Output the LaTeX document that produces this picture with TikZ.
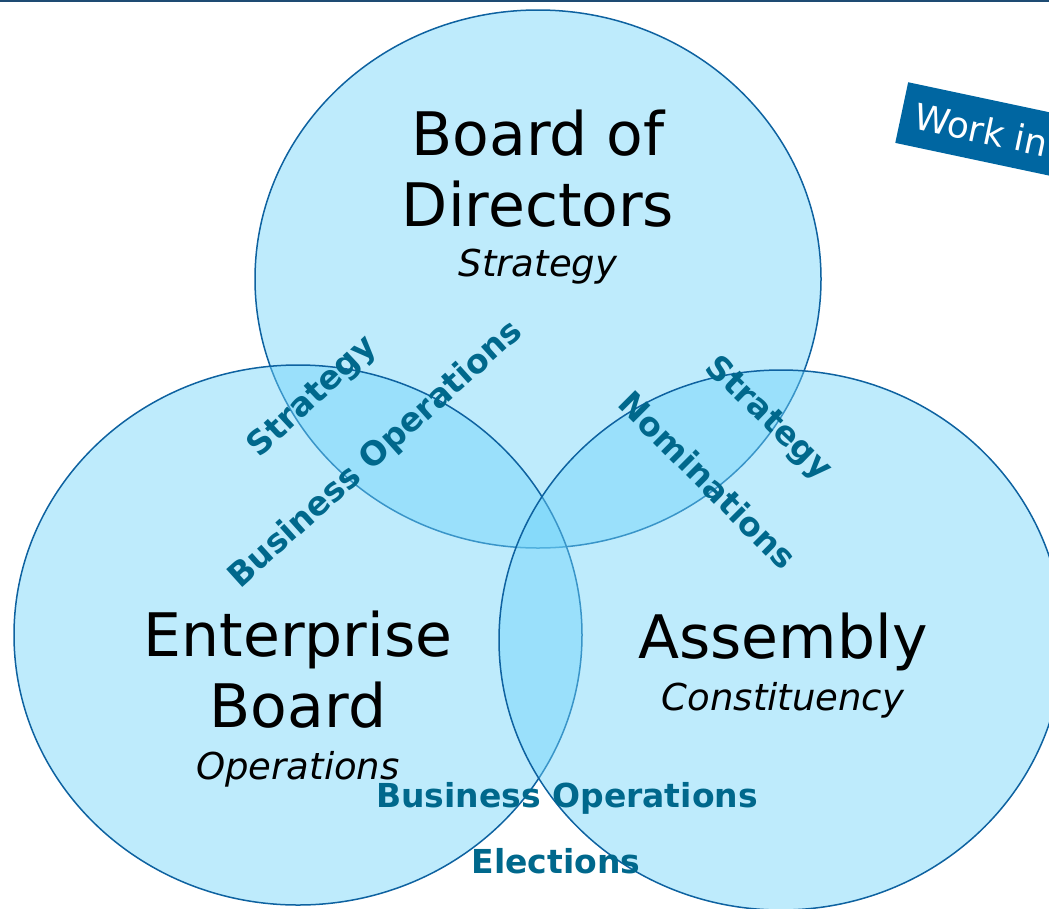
\documentclass[tikz,border=0pt]{standalone}
\usepackage{fontspec}
\setmainfont{DejaVu Sans}
\usetikzlibrary{shapes.geometric}
\usetikzlibrary{positioning}
\definecolor{venfill}{RGB}{110,211,249}
\definecolor{venline}{RGB}{14,98,160}
\definecolor{lenstext}{RGB}{0,104,140}
\definecolor{wipblue}{RGB}{0,102,161}
\definecolor{topbar}{RGB}{30,75,115}
\tikzstyle{circ} = [ellipse, draw=venline, line width=1.5pt, fill=venfill,
    fill opacity=0.45, draw opacity=1, minimum width=566pt, minimum height=538pt, inner sep=0pt]
\tikzstyle{title} = [align=center, inner sep=0pt, font=\fontsize{60}{71}\selectfont]
\tikzstyle{role} = [inner sep=0pt, font=\fontsize{37}{44}\selectfont\itshape]
\tikzstyle{lens} = [inner sep=0pt, text=lenstext, font=\fontsize{33}{40}\selectfont\bfseries]
\tikzstyle{wip} = [rectangle, fill=wipblue, text=white, inner xsep=14pt, inner ysep=0pt,
    minimum height=62pt, font=\fontsize{36}{43}\selectfont]
\begin{document}
\begin{tikzpicture}[x=1pt, y=-1pt]
	\useasboundingbox (0,0) rectangle (1049,908);
	\clip (0,0) rectangle (1049,908);
	\draw [topbar, line width=2.2pt] (0,1) -- (1049,1);
	
	\node [circ] (bodc) at (538,279) {};
	\node [circ, minimum width=568pt, minimum height=540pt] (ebc) at (298,635) {};
	\node [circ, minimum width=564pt, minimum height=540pt] (asmc) at (781,640) {};
	
	% base of a two-line title is its last line
	\node [title, anchor=base] (bod) at (538,226) {Board of\\Directors};
	\node [role, below=22pt of bod] (bodrole) {Strategy};
	\node [title, anchor=base] (eb) at (298,727) {Enterprise\\Board};
	\node [role, below=23pt of eb] (ebrole) {Operations};
	\node [title, anchor=base] (asm) at (783,658) {Assembly};
	\node [role, below=11pt of asm] (asmrole) {Constituency};
	
	\node [lens, rotate=43] (lstrat) at (313,397) {Strategy};
	\node [lens, rotate=42] (lbiz) at (376,455) {Business Operations};
	\node [lens, rotate=-44] (rstrat) at (768,419) {Strategy};
	\node [lens, rotate=-45] (rnom) at (708,480) {Nominations};
	\node [lens, anchor=base] (bbiz) at (567,807) {Business Operations};
	\node [lens, anchor=base] (elec) at (556,873) {Elections};
	
	\node [wip, rotate=-12, anchor=north west] (wip) at (908,82) {Work in};
\end{tikzpicture}
\end{document}
